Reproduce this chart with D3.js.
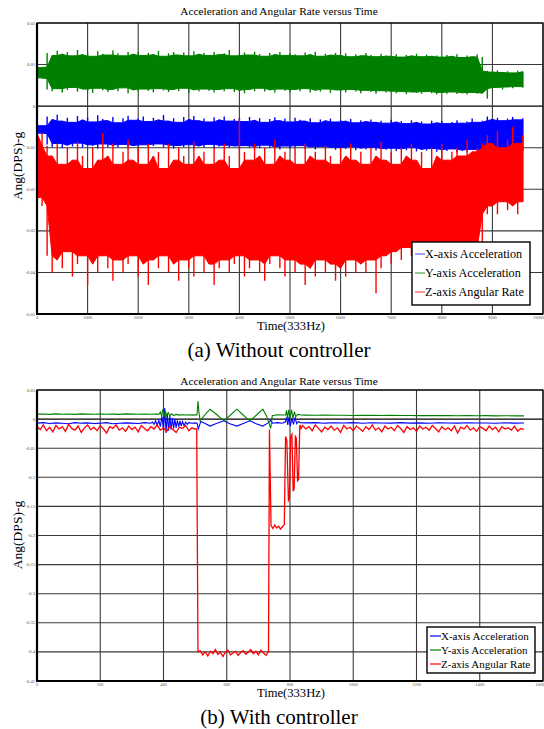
<!DOCTYPE html>
<html><head><meta charset="utf-8">
<script src="https://cdn.jsdelivr.net/npm/d3@7"></script>
<style>body{margin:0;background:#fff}svg{display:block}</style>
</head><body>
<svg id="c" width="544" height="729"></svg>
<script>
// ---------- Panel (a): Without controller (noise envelopes every 100 samples) ----------
const topTimes = d3.range(0, 9601, 100);
const redHiA = [-0.006,-0.0065,-0.0095,-0.012,-0.009,-0.014,-0.010,-0.013,-0.0085,-0.012,
 -0.015,-0.010,-0.013,-0.0065,-0.012,-0.009,-0.014,-0.011,-0.008,-0.013,
 -0.010,-0.014,-0.009,-0.012,-0.011,-0.015,-0.009,-0.013,-0.010,-0.012,
 -0.014,-0.0085,-0.012,-0.011,-0.014,-0.010,-0.013,-0.009,-0.012,-0.015,
 -0.003,-0.011,-0.013,-0.009,-0.012,-0.010,-0.014,-0.008,-0.012,-0.011,
 -0.013,-0.010,-0.014,-0.009,-0.012,-0.011,-0.013,-0.0095,-0.012,-0.014,
 -0.010,-0.012,-0.009,-0.013,-0.011,-0.014,-0.010,-0.012,-0.0085,-0.013,
 -0.011,-0.014,-0.010,-0.012,-0.009,-0.013,-0.011,-0.015,-0.010,-0.012,
 -0.009,-0.013,-0.011,-0.010,-0.012,-0.008,-0.011,-0.010,-0.009,-0.007,
 -0.009,-0.006,-0.010,-0.008,-0.005,-0.009,-0.007];
const redLoA = [-0.022,-0.024,-0.036,-0.040,-0.037,-0.039,-0.035,-0.041,-0.038,-0.036,
 -0.043,-0.038,-0.040,-0.036,-0.039,-0.042,-0.037,-0.040,-0.038,-0.036,
 -0.041,-0.038,-0.043,-0.037,-0.039,-0.036,-0.040,-0.038,-0.042,-0.037,
 -0.039,-0.041,-0.036,-0.040,-0.038,-0.043,-0.039,-0.037,-0.040,-0.038,
 -0.036,-0.041,-0.039,-0.037,-0.040,-0.042,-0.038,-0.036,-0.039,-0.041,
 -0.037,-0.040,-0.038,-0.043,-0.039,-0.041,-0.037,-0.040,-0.038,-0.042,
 -0.039,-0.041,-0.037,-0.040,-0.038,-0.040,-0.037,-0.045,-0.039,-0.036,
 -0.038,-0.035,-0.037,-0.034,-0.036,-0.038,-0.035,-0.037,-0.034,-0.036,
 -0.035,-0.037,-0.034,-0.036,-0.035,-0.037,-0.034,-0.036,-0.035,-0.026,
 -0.024,-0.026,-0.023,-0.025,-0.024,-0.026,-0.023];
const greenHiA = [0.0093,0.0094,0.0128,0.0122,0.0133,0.0125,0.0130,0.0121,0.0135,0.0124,
 0.0129,0.0120,0.0132,0.0126,0.0123,0.0134,0.0127,0.0121,0.0130,0.0125,
 0.0131,0.0122,0.0128,0.0124,0.0133,0.0120,0.0127,0.0130,0.0123,0.0129,
 0.0121,0.0132,0.0125,0.0128,0.0122,0.0130,0.0124,0.0127,0.0135,0.0121,
 0.0126,0.0129,0.0123,0.0131,0.0125,0.0120,0.0128,0.0124,0.0130,0.0122,
 0.0127,0.0125,0.0121,0.0129,0.0124,0.0131,0.0120,0.0126,0.0123,0.0128,
 0.0122,0.0127,0.0119,0.0125,0.0121,0.0128,0.0123,0.0119,0.0126,0.0122,
 0.0120,0.0125,0.0118,0.0123,0.0121,0.0126,0.0119,0.0124,0.0120,0.0122,
 0.0118,0.0123,0.0120,0.0125,0.0117,0.0122,0.0119,0.0124,0.0118,0.0085,
 0.0082,0.0086,0.0081,0.0084,0.0080,0.0085,0.0083];
const greenLoA = [0.0068,0.0066,0.0040,0.0036,0.0042,0.0033,0.0039,0.0045,0.0035,0.0041,
 0.0037,0.0032,0.0043,0.0038,0.0034,0.0040,0.0036,0.0044,0.0031,0.0039,
 0.0035,0.0041,0.0037,0.0033,0.0042,0.0038,0.0034,0.0040,0.0036,0.0043,
 0.0032,0.0039,0.0035,0.0041,0.0037,0.0033,0.0040,0.0036,0.0042,0.0034,
 0.0038,0.0031,0.0040,0.0036,0.0043,0.0035,0.0039,0.0033,0.0041,0.0037,
 0.0034,0.0040,0.0036,0.0042,0.0033,0.0038,0.0035,0.0041,0.0032,0.0039,
 0.0036,0.0033,0.0040,0.0035,0.0031,0.0038,0.0034,0.0030,0.0037,0.0033,
 0.0036,0.0031,0.0035,0.0029,0.0034,0.0032,0.0030,0.0035,0.0031,0.0028,
 0.0033,0.0030,0.0034,0.0029,0.0032,0.0028,0.0033,0.0030,0.0031,0.0018,
 0.0042,0.0045,0.0040,0.0046,0.0043,0.0047,0.0044];
const blueHiA = [-0.0046,-0.0047,-0.0025,-0.0032,-0.0021,-0.0036,-0.0028,-0.0039,-0.0024,-0.0033,
 -0.0027,-0.0038,-0.0022,-0.0031,-0.0035,-0.0026,-0.0040,-0.0029,-0.0023,-0.0034,
 -0.0030,-0.0025,-0.0037,-0.0028,-0.0033,-0.0021,-0.0036,-0.0029,-0.0039,-0.0026,
 -0.0032,-0.0024,-0.0035,-0.0030,-0.0038,-0.0027,-0.0033,-0.0025,-0.0036,-0.0031,
 -0.0028,-0.0037,-0.0026,-0.0034,-0.0029,-0.0039,-0.0031,-0.0027,-0.0035,-0.0030,
 -0.0038,-0.0028,-0.0033,-0.0036,-0.0029,-0.0040,-0.0032,-0.0035,-0.0030,-0.0038,
 -0.0033,-0.0036,-0.0031,-0.0040,-0.0034,-0.0037,-0.0032,-0.0039,-0.0035,-0.0041,
 -0.0033,-0.0038,-0.0036,-0.0042,-0.0034,-0.0039,-0.0037,-0.0043,-0.0035,-0.0040,
 -0.0036,-0.0042,-0.0038,-0.0034,-0.0041,-0.0037,-0.0030,-0.0039,-0.0035,-0.0025,
 -0.0032,-0.0028,-0.0035,-0.0030,-0.0026,-0.0033,-0.0029];
const blueLoA = [-0.0065,-0.0066,-0.0092,-0.0098,-0.0090,-0.0101,-0.0094,-0.0097,-0.0089,-0.0100,
 -0.0093,-0.0096,-0.0102,-0.0091,-0.0098,-0.0094,-0.0099,-0.0092,-0.0101,-0.0095,
 -0.0097,-0.0093,-0.0100,-0.0096,-0.0091,-0.0099,-0.0094,-0.0102,-0.0095,-0.0098,
 -0.0093,-0.0100,-0.0096,-0.0099,-0.0092,-0.0101,-0.0097,-0.0094,-0.0100,-0.0096,
 -0.0103,-0.0095,-0.0099,-0.0097,-0.0101,-0.0094,-0.0100,-0.0098,-0.0104,-0.0096,
 -0.0101,-0.0099,-0.0095,-0.0102,-0.0098,-0.0104,-0.0097,-0.0101,-0.0099,-0.0105,
 -0.0100,-0.0103,-0.0098,-0.0106,-0.0101,-0.0104,-0.0099,-0.0107,-0.0102,-0.0105,
 -0.0101,-0.0108,-0.0103,-0.0106,-0.0100,-0.0109,-0.0104,-0.0107,-0.0102,-0.0110,
 -0.0105,-0.0108,-0.0103,-0.0111,-0.0106,-0.0109,-0.0104,-0.0110,-0.0107,-0.0112,
 -0.0108,-0.0111,-0.0106,-0.0113,-0.0109,-0.0112,-0.0108];
const xTicksA = [0,1000,2000,3000,4000,5000,6000,7000,8000,9000,10000];
const xTickLabelsA = ["0","1000","2000","3000","4000","5000","6000","7000","8000","9000","10000"];
const yTicksA = [0.02,0.01,0,-0.01,-0.02,-0.03,-0.04,-0.05];
const yTickLabelsA = ["0.02","0.01","0","-0.01","-0.02","-0.03","-0.04","-0.05"];

// ---------- Panel (b): With controller ----------
const redPreB = [-0.012,-0.018,-0.010,-0.020,-0.014,-0.022,-0.011,-0.017,-0.013,-0.021,
 -0.009,-0.016,-0.019,-0.012,-0.023,-0.015,-0.010,-0.018,-0.014,-0.020,
 -0.011,-0.017,-0.024,-0.013,-0.016,-0.010,-0.019,-0.015,-0.021,-0.012,
 -0.018,-0.014,-0.022,-0.011,-0.016,-0.020,-0.013,-0.017,-0.010,-0.019,
 -0.015,-0.021,-0.012,-0.018,-0.023,-0.014,-0.016,-0.011,-0.020,-0.015,-0.017]; // t 0..500 step 10
const redEventB = [[505,-0.017],[509,-0.400],[516,-0.398],[524,-0.405],[532,-0.400],[540,-0.407],[548,-0.399],
 [556,-0.403],[564,-0.396],[572,-0.404],[580,-0.401],[588,-0.408],[596,-0.400],[604,-0.397],[612,-0.405],
 [620,-0.402],[628,-0.399],[636,-0.406],[644,-0.401],[652,-0.398],[660,-0.404],[668,-0.400],[676,-0.396],
 [684,-0.403],[692,-0.399],[700,-0.405],[708,-0.397],[716,-0.402],[724,-0.406],[732,-0.400],
 [735,-0.018],[740,-0.183],[746,-0.188],[752,-0.182],[758,-0.187],[764,-0.184],[770,-0.189],[776,-0.185],
 [782,-0.181],[786,-0.030],[790,-0.036],[795,-0.140],[798,-0.137],[802,-0.030],[806,-0.026],[810,-0.124],
 [813,-0.120],[817,-0.030],[820,-0.033],[824,-0.106],[827,-0.104],[831,-0.010],[835,-0.016]];
const redPostB = [-0.011,-0.017,-0.013,-0.020,-0.010,-0.016,-0.022,-0.014,-0.018,-0.012,
 -0.019,-0.015,-0.023,-0.011,-0.017,-0.014,-0.020,-0.012,-0.016,-0.021,
 -0.013,-0.018,-0.010,-0.019,-0.015,-0.022,-0.012,-0.017,-0.014,-0.020,
 -0.011,-0.016,-0.023,-0.013,-0.018,-0.015,-0.021,-0.012,-0.017,-0.014,
 -0.019,-0.011,-0.016,-0.022,-0.013,-0.018,-0.015,-0.020,-0.012,-0.024,
 -0.014,-0.017,-0.011,-0.019,-0.015,-0.021,-0.013,-0.016,-0.020,-0.012,
 -0.018,-0.014,-0.022,-0.013,-0.017,-0.015,-0.019,-0.012,-0.021,-0.016,-0.018]; // t 840..1540 step 10
const bluePreB = [-0.007,-0.006,-0.0075,-0.0065,-0.007,-0.008,-0.006,-0.007,-0.0065,-0.0075,
 -0.007,-0.006,-0.008,-0.007,-0.0065,-0.007,-0.0075,-0.006,-0.007]; // t 0..360 step 20
const blueEventB = [[365,-0.005],[370,-0.009],[375,-0.003],[380,-0.011],[385,-0.002],[390,-0.013],[395,0.005],
 [400,-0.020],[404,0.019],[408,-0.024],[412,0.010],[416,-0.020],[420,0.006],[424,-0.018],[428,0.002],
 [432,-0.016],[436,0.000],[440,-0.015],[444,-0.002],[448,-0.013],[452,-0.003],[456,-0.012],[460,-0.004],
 [465,-0.011],[470,-0.005],[475,-0.009],[480,-0.006],[490,-0.007],[500,-0.0065],[506,-0.007],[510,-0.017],
 [518,-0.004],[530,-0.007],[547,-0.012],[565,-0.008],[591,-0.003],[610,-0.008],[632,-0.012],[650,-0.008],
 [673,-0.003],[693,-0.008],[714,-0.012],[730,-0.007],[739,-0.002],[745,-0.007],[760,-0.006],[775,-0.007],
 [785,-0.005],[789,0.003],[793,-0.010],[797,0.004],[801,-0.012],[806,0.002],[811,-0.009],[816,0.003],
 [821,-0.008],[826,-0.004],[832,-0.006]];
const bluePostB = [-0.0065,-0.006,-0.007,-0.0062,-0.0068,-0.006,-0.0072,-0.0064,-0.0066,-0.007,
 -0.0061,-0.0069,-0.0065,-0.0071,-0.0063,-0.0067,-0.007,-0.0062,-0.0068,-0.0066,
 -0.0072,-0.0064,-0.0069,-0.0067]; // t 850..1540 step 30
const greenPreB = [0.0085,0.0088,0.0082,0.009,0.0084,0.0087,0.0081,0.0089,0.0085,0.0083,
 0.0088,0.0084,0.0086,0.0082,0.0089,0.0085,0.0083,0.0087,0.0084,0.0086]; // t 0..380 step 20
const greenEventB = [[385,0.008],[390,0.012],[394,0.005],[398,0.017],[402,0.004],[406,0.014],[410,0.005],
 [415,0.011],[420,0.006],[426,0.009],[432,0.006],[440,0.008],[450,0.0068],[460,0.0075],[470,0.007],
 [480,0.0074],[490,0.0069],[500,0.0072],[506,0.007],[509,0.031],[512,0.012],[516,-0.003],[530,0.007],
 [547,0.017],[570,0.007],[591,-0.003],[612,0.007],[632,0.017],[652,0.007],[673,-0.003],[694,0.007],
 [714,0.017],[726,0.005],[739,-0.016],[744,0.006],[760,0.0075],[775,0.007],[786,0.007],[789,0.015],
 [792,0.001],[796,0.016],[800,0.002],[805,0.016],[809,0.001],[814,0.013],[818,0.004],[824,0.008],[835,0.007]];
const greenPostB = [0.0068,0.0066,0.007,0.0065,0.0067,0.0063,0.0066,0.0064,0.0062,0.0065,
 0.0061,0.0063,0.006,0.0062,0.0059,0.0061,0.0058,0.006,0.0057,0.0059,
 0.0056,0.0058,0.0055,0.0056]; // t 850..1540 step 30
const xTicksB = [0,200,400,600,800,1000,1200,1400,1600];
const xTickLabelsB = ["0","200","400","600","800","1000","1200","1400","1600"];
const yTicksB = [0.05,0,-0.05,-0.1,-0.15,-0.2,-0.25,-0.3,-0.35,-0.4,-0.45];
const yTickLabelsB = ["0.05","0","-0.05","-0.1","-0.15","-0.2","-0.25","-0.3","-0.35","-0.4","-0.45"];

const seriesNames = ["X-axis Acceleration","Y-axis Acceleration","Z-axis Angular Rate"];
const titleText = "Acceleration and Angular Rate versus Time";
const captions = ["(a) Without controller","(b) With controller"];

// ---------- drawing ----------
const serif = "'Liberation Serif','Times New Roman',serif";
const svg = d3.select("#c");
const COL = {blue:"#0000ff", green:"#008000", red:"#ff0000"};

function frame(g, x, y, cfg, id) {
  const [x0,x1] = x.range(), [y1,y0] = y.range();
  g.append("g").selectAll("line").data(cfg.yTicks).join("line")
    .attr("x1",x0).attr("x2",x1).attr("y1",d=>y(d)).attr("y2",d=>y(d))
    .attr("stroke", d=> d===0 ? "#000" : "#3a3a3a").attr("stroke-width",1.1);
  g.append("g").selectAll("line").data(cfg.xTicks).join("line")
    .attr("x1",d=>x(d)).attr("x2",d=>x(d)).attr("y1",y0).attr("y2",y1)
    .attr("stroke","#3a3a3a").attr("stroke-width",1.1);
  svg.append("clipPath").attr("id",id).append("rect")
    .attr("x",x0).attr("y",y0).attr("width",x1-x0).attr("height",y1-y0);
}
function axesAndText(g, x, y, cfg) {
  const [x0,x1] = x.range(), [y1,y0] = y.range();
  g.append("rect").attr("x",x0).attr("y",y0).attr("width",x1-x0).attr("height",y1-y0)
    .attr("fill","none").attr("stroke","#000").attr("stroke-width",1.2);
  g.append("line").attr("x1",x0).attr("x2",x0).attr("y1",y0).attr("y2",y1).attr("stroke","#000").attr("stroke-width",2.2);
  g.append("line").attr("x1",x0-1).attr("x2",x1).attr("y1",y1).attr("y2",y1).attr("stroke","#000").attr("stroke-width",2.2);
  g.append("g").selectAll("text").data(cfg.yTicks).join("text")
    .attr("x",x0-2).attr("y",d=>y(d)+1.5).attr("text-anchor","end")
    .attr("font-family",serif).attr("font-size",4.6).attr("fill","#555")
    .text((d,i)=>cfg.yLabels[i]);
  const n = cfg.xTicks.length;
  g.append("g").selectAll("text").data(cfg.xTicks).join("text")
    .attr("x",(d,i)=> i===n-1 ? 544 : x(d)).attr("y",y1+4.5)
    .attr("text-anchor",(d,i)=> i===n-1 ? "end" : "middle")
    .attr("font-family",serif).attr("font-size",4.4).attr("fill","#555")
    .text((d,i)=>cfg.xLabels[i]);
  g.append("text").attr("x",279).attr("y",cfg.titleY).attr("text-anchor","middle")
    .attr("font-family",serif).attr("font-size",11.3).text(titleText);
  g.append("text").attr("transform",`translate(21.5,${cfg.ylabY}) rotate(-90)`).attr("text-anchor","middle")
    .attr("font-family",serif).attr("font-size",13.5).text("Ang(DPS)-g");
  g.append("text").attr("x",291).attr("y",cfg.xlabY).attr("text-anchor","middle")
    .attr("font-family",serif).attr("font-size",12.6).text("Time(333Hz)");
  g.append("text").attr("x",279).attr("y",cfg.capY).attr("text-anchor","middle")
    .attr("font-family",serif).attr("font-size",21).text(cfg.caption);
  const L = cfg.legend;
  const lg = g.append("g");
  lg.append("rect").attr("x",L.x).attr("y",L.y).attr("width",L.w).attr("height",L.h)
    .attr("fill","#fff").attr("stroke","#000").attr("stroke-width",1.4);
  seriesNames.forEach((s,i)=>{
    const yy = L.y + L.first + i*L.step;
    lg.append("line").attr("x1",L.x+3).attr("x2",L.x+L.lineW).attr("y1",yy).attr("y2",yy)
      .attr("stroke",L.colors[i]).attr("stroke-width",1.2);
    lg.append("text").attr("x",L.x+L.lineW).attr("y",yy+L.fs*0.33)
      .attr("font-family",serif).attr("font-size",L.fs).text(s);
  });
}

// Panel A
{
  const x = d3.scaleLinear().domain([0,10000]).range([37,543]);
  const y = d3.scaleLinear().domain([-0.05,0.02]).range([314,23]);
  const cfg = {xTicks:xTicksA,xLabels:xTickLabelsA,yTicks:yTicksA,yLabels:yTickLabelsA,
    titleY:15,ylabY:166,xlabY:330,capY:357,caption:captions[0],
    legend:{x:412,y:242,w:118,h:63,first:12,step:19,lineW:13,fs:12.2,colors:["#6060ff","#50a050","#ff5050"]}};
  const g = svg.append("g");
  frame(g,x,y,cfg,"clipA");
  const dg = g.append("g").attr("clip-path","url(#clipA)");
  const bands = [[blueHiA,blueLoA,COL.blue],[greenHiA,greenLoA,COL.green],[redHiA,redLoA,COL.red]];
  bands.forEach(([hi,lo,c])=>{
    const n = hi.length;
    // dense core: the envelope pulled in to the nearer of the neighbouring extremes
    const coreHi = hi.map((v,i)=> d3.min([hi[Math.max(0,i-1)],v,hi[Math.min(n-1,i+1)]]));
    const coreLo = lo.map((v,i)=> d3.max([lo[Math.max(0,i-1)],v,lo[Math.min(n-1,i+1)]]));
    const area = d3.area().x((d,i)=>x(topTimes[i])).y0((d,i)=>y(coreLo[i])).y1((d,i)=>y(coreHi[i]));
    dg.append("path").datum(hi).attr("d",area).attr("fill",c).attr("stroke",c).attr("stroke-width",1);
    // spikes reaching each extreme
    dg.append("g").selectAll("line").data(hi).join("line")
      .attr("x1",(d,i)=>x(topTimes[i])).attr("x2",(d,i)=>x(topTimes[i]))
      .attr("y1",(d,i)=>y(lo[i])).attr("y2",(d,i)=>y(hi[i]))
      .attr("stroke",c).attr("stroke-width",1.4);
  });
  axesAndText(g,x,y,cfg);
}
// Panel B
{
  const x = d3.scaleLinear().domain([0,1600]).range([37,543]);
  const y = d3.scaleLinear().domain([-0.45,0.05]).range([681,390]);
  const cfg = {xTicks:xTicksB,xLabels:xTickLabelsB,yTicks:yTicksB,yLabels:yTickLabelsB,
    titleY:385,ylabY:535,xlabY:697,capY:724,caption:captions[1],
    legend:{x:427,y:627,w:108,h:46,first:9,step:14,lineW:14,fs:11,colors:[COL.blue,COL.green,COL.red]}};
  const g = svg.append("g");
  frame(g,x,y,cfg,"clipB");
  const dg = g.append("g").attr("clip-path","url(#clipB)");
  const blue = [...bluePreB.map((v,i)=>[i*20,v]), ...blueEventB, ...bluePostB.map((v,i)=>[850+i*30,v])];
  const green = [...greenPreB.map((v,i)=>[i*20,v]), ...greenEventB, ...greenPostB.map((v,i)=>[850+i*30,v])];
  const red = [...redPreB.map((v,i)=>[i*10,v]), ...redEventB, ...redPostB.map((v,i)=>[840+i*10,v])];
  const line = d3.line().x(d=>x(d[0])).y(d=>y(d[1]));
  [[blue,COL.blue,1.1],[green,COL.green,1.1],[red,COL.red,1.3]].forEach(([d,c,w])=>{
    dg.append("path").datum(d).attr("d",line).attr("fill","none").attr("stroke",c).attr("stroke-width",w);
  });
  axesAndText(g,x,y,cfg);
}
</script>
</body></html>
